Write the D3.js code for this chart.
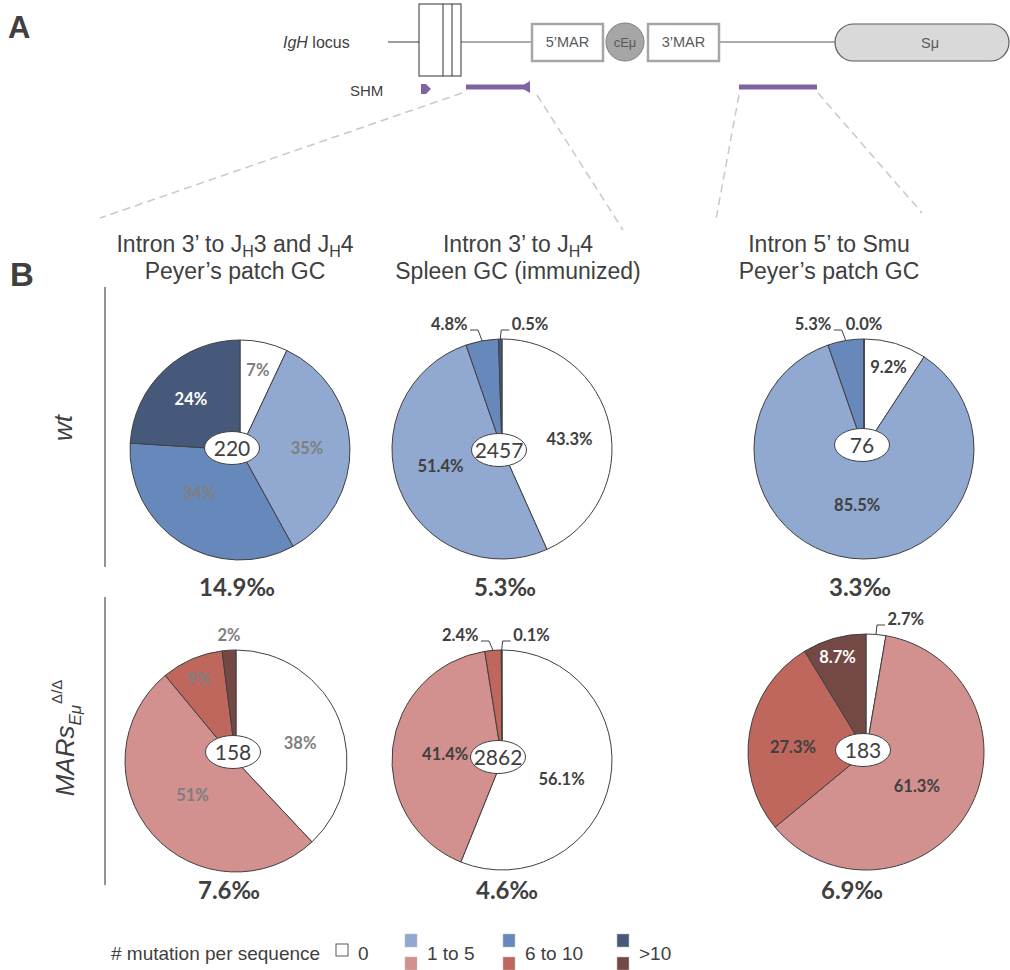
<!DOCTYPE html>
<html><head><meta charset="utf-8">
<script src="https://cdn.jsdelivr.net/npm/d3@7"></script>
<style>body{margin:0;background:#fff}</style>
</head><body><svg id="c" width="1010" height="970"></svg>
<script>
// ---------- DATA ----------
const categories = ["0", "1 to 5", "6 to 10", ">10"];
const columnTitles = [
  [["Intron 3\u2019 to J", ""], ["H", "sub"], ["3 and J", ""], ["H", "sub"], ["4", ""]],
  [["Intron 3\u2019 to J", ""], ["H", "sub"], ["4", ""]],
  [["Intron 5\u2019 to Smu", ""]]
];
const columnSubtitles = ["Peyer\u2019s patch GC", "Spleen GC (immunized)", "Peyer\u2019s patch GC"];
const rowNames = ["wt", "MARs"];
const wtJH34PP = [7, 35, 34, 24];
const wtJH4Spleen = [43.3, 51.4, 4.8, 0.5];
const wtSmuPP = [9.2, 85.5, 5.3, 0.0];
const marJH34PP = [38, 51, 9, 2];
const marJH4Spleen = [56.1, 41.4, 2.4, 0.1];
const marSmuPP = [2.7, 61.3, 27.3, 8.7];
const seqCounts = [220, 2457, 76, 158, 2862, 183];
const mutFreq = ["14.9\u2030", "5.3\u2030", "3.3\u2030", "7.6\u2030", "4.6\u2030", "6.9\u2030"];
const pctDecimals = [0, 1, 1, 0, 1, 1];

// ---------- STYLE / LAYOUT ----------
const blues = ["#ffffff", "#91a9d0", "#6788bb", "#47597a"];
const reds  = ["#ffffff", "#d2908e", "#bf665d", "#744844"];
const pies = [
  {vals: wtJH34PP,    cx: 240, cy: 450, r: 110, ex: -8, ey: -2, colors: blues,
   lab: [[.745,0],[.61,0],[.54,11],[.64,-1]], lc: ["#7f7f7f","#7f7f7f","#7f7f7f","#fff"], fx: -3, fy: 146},
  {vals: wtJH4Spleen, cx: 502, cy: 449, r: 110, ex: -3, ey: 1, colors: blues,
   lab: [[.62,4],[.58,6],"left","right"], lc: ["#404040","#404040","#404040","#404040"], fx: 3, fy: 147},
  {vals: wtSmuPP,     cx: 864, cy: 449, r: 110, ex: -2, ey: -4, colors: blues,
   lab: [[.78,0],[.51,0],"left","up"], lc: ["#404040","#404040","#404040","#404040"], fx: -4, fy: 147},
  {vals: marJH34PP,   cx: 236, cy: 761, r: 111, ex: -3, ey: -9, colors: reds,
   lab: [[.6,6],[.5,3],[.81,-1],"up"], lc: ["#7f7f7f","#7f7f7f","#7f7f7f","#7f7f7f"], fx: -7, fy: 138},
  {vals: marJH4Spleen,cx: 502, cy: 760, r: 110, ex: -4, ey: -3, colors: reds,
   lab: [[.57,7],[.52,0],"left","right"], lc: ["#404040","#404040","#404040","#404040"], fx: 5, fy: 139},
  {vals: marSmuPP,    cx: 866, cy: 752, r: 118, ex: -3, ey: -2, colors: reds,
   lab: ["right",[.52,4],[.62,-6],[.84,-1]], lc: ["#404040","#404040","#404040","#fff"], fx: -14, fy: 147}
];
const colCenters = [235, 518, 829];
const TXT = "#404040";
const sansF = "'Liberation Sans', Arial, sans-serif";
const lato = "Lato, 'Open Sans', sans-serif";

const svg = d3.select("#c");

// ---------- PANEL A ----------
const A = svg.append("g");
A.append("text").attr("x", 8).attr("y", 38).text("A")
  .attr("font-family", sansF).attr("font-weight", "bold").attr("font-size", 31).attr("fill", TXT);
const igh = A.append("text").attr("x", 283).attr("y", 48).attr("font-family", sansF)
  .attr("font-size", 16).attr("fill", TXT);
igh.append("tspan").attr("font-style", "italic").text("IgH");
igh.append("tspan").text(" locus");
[[388, 419], [461, 532], [720, 835]].forEach(([a, b]) =>
  A.append("line").attr("x1", a).attr("x2", b).attr("y1", 42).attr("y2", 42)
    .attr("stroke", "#595959").attr("stroke-width", 1.2));
A.append("rect").attr("x", 419).attr("y", 4).attr("width", 42).attr("height", 72)
  .attr("fill", "#fff").attr("stroke", "#333").attr("stroke-width", 1);
[443, 452].forEach(x => A.append("line").attr("x1", x).attr("x2", x).attr("y1", 4).attr("y2", 76)
  .attr("stroke", "#333").attr("stroke-width", 1));
[[532, "5\u2019MAR"], [648, "3\u2019MAR"]].forEach(([x, t]) => {
  A.append("rect").attr("x", x).attr("y", 24).attr("width", 71).attr("height", 37)
    .attr("fill", "#fff").attr("stroke", "#a6a6a6").attr("stroke-width", 2.5);
  A.append("text").attr("x", x + 35.5).attr("y", 47).attr("text-anchor", "middle").text(t)
    .attr("font-family", sansF).attr("font-size", 14.5).attr("fill", "#595959");
});
A.append("ellipse").attr("cx", 625).attr("cy", 42).attr("rx", 19).attr("ry", 19)
  .attr("fill", "#a6a6a6").attr("stroke", "#7f7f7f").attr("stroke-width", 1);
A.append("text").attr("x", 625).attr("y", 47).attr("text-anchor", "middle").text("cE\u03bc")
  .attr("font-family", sansF).attr("font-size", 13).attr("fill", "#595959");
A.append("rect").attr("x", 835).attr("y", 24).attr("width", 174).attr("height", 37)
  .attr("rx", 18.5).attr("fill", "#d9d9d9").attr("stroke", "#595959").attr("stroke-width", 1.2);
A.append("text").attr("x", 930).attr("y", 48).attr("text-anchor", "middle").text("S\u03bc")
  .attr("font-family", sansF).attr("font-size", 14.5).attr("fill", "#595959");
A.append("text").attr("x", 350).attr("y", 96).text("SHM")
  .attr("font-family", sansF).attr("font-size", 15).attr("fill", TXT);
const purple = "#8064a2";
A.append("path").attr("d", "M421,84 L426,84 L431,89 L426,94 L421,94 Z").attr("fill", purple);
A.append("line").attr("x1", 466).attr("x2", 529).attr("y1", 87).attr("y2", 87)
  .attr("stroke", purple).attr("stroke-width", 5);
A.append("path").attr("d", "M520,87 L530,81 L530,93 Z").attr("fill", purple);
A.append("line").attr("x1", 739).attr("x2", 817).attr("y1", 87).attr("y2", 87)
  .attr("stroke", purple).attr("stroke-width", 5);
[[462, 93, 100, 218], [537, 95, 623, 230], [739, 95, 716, 219], [818, 93, 922, 213]].forEach(([x1, y1, x2, y2]) =>
  A.append("line").attr("x1", x1).attr("y1", y1).attr("x2", x2).attr("y2", y2)
    .attr("stroke", "#c8c8c8").attr("stroke-width", 1.5).attr("stroke-dasharray", "8,5"));

// ---------- PANEL B ----------
svg.append("text").attr("x", 10).attr("y", 286).text("B")
  .attr("font-family", sansF).attr("font-weight", "bold").attr("font-size", 33).attr("fill", TXT);

columnTitles.forEach((parts, i) => {
  const t = svg.append("text").attr("x", colCenters[i]).attr("y", 252).attr("text-anchor", "middle")
    .attr("font-family", sansF).attr("font-size", 23).attr("fill", TXT);
  let shift = 0;
  parts.forEach(([s, kind]) => {
    const sp = t.append("tspan").text(s);
    if (kind === "sub") { sp.attr("font-size", 16).attr("dy", 5 - shift); shift = 5; }
    else { sp.attr("dy", -shift); shift = 0; }
  });
  svg.append("text").attr("x", colCenters[i]).attr("y", 279).attr("text-anchor", "middle")
    .attr("font-family", sansF).attr("font-size", 23).attr("fill", TXT).text(columnSubtitles[i]);
});

[[287, 567], [597, 885]].forEach(([a, b]) =>
  svg.append("line").attr("x1", 105).attr("x2", 105).attr("y1", a).attr("y2", b)
    .attr("stroke", "#595959").attr("stroke-width", 1.3));
svg.append("text").attr("transform", "translate(72,428) rotate(-90)").attr("text-anchor", "middle")
  .attr("font-family", sansF).attr("font-size", 26).attr("font-style", "italic").attr("fill", TXT)
  .text(rowNames[0]);
const mt = svg.append("text").attr("transform", "translate(74,738) rotate(-90)").attr("text-anchor", "middle")
  .attr("font-family", sansF).attr("font-size", 26).attr("font-style", "italic").attr("fill", TXT);
mt.append("tspan").text(rowNames[1]);
mt.append("tspan").attr("font-size", 17).attr("dy", 7).text("E\u03bc");
mt.append("tspan").attr("font-size", 15).attr("font-style", "normal").attr("dy", -19).attr("dx", 1).text("\u0394/\u0394");

const pieGen = d3.pie().sort(null).value(d => d);
pies.forEach((p, pi) => {
  const g = svg.append("g").attr("transform", `translate(${p.cx},${p.cy})`);
  const arc = d3.arc().innerRadius(0).outerRadius(p.r);
  const arcs = pieGen(p.vals);
  g.selectAll("path.s").data(arcs).join("path").attr("class", "s")
    .attr("d", arc).attr("fill", (d, i) => p.colors[i])
    .attr("stroke", "#404040").attr("stroke-width", 1).attr("stroke-linejoin", "round");
  const fmt = d3.format("." + pctDecimals[pi] + "f");
  arcs.forEach((d, i) => {
    const txt = fmt(d.data) + "%";
    const L = p.lab[i];
    const mid = (d.startAngle + d.endAngle) / 2;
    const lt = g.append("text").attr("font-family", lato).attr("font-weight", "bold")
      .attr("font-size", 16.5).attr("fill", p.lc[i]).attr("dy", "0.36em").text(txt);
    if (Array.isArray(L)) {
      const a = mid + L[1] * Math.PI / 180, rr = L[0] * p.r;
      lt.attr("x", Math.sin(a) * rr).attr("y", -Math.cos(a) * rr).attr("text-anchor", "middle");
    } else {
      const px = Math.sin(mid) * p.r, py = -Math.cos(mid) * p.r;
      const ly = -p.r - 15, ey = -p.r - 9;
      if (L === "up") {
        lt.attr("x", px).attr("y", ly).attr("text-anchor", "middle");
      } else {
        const dir = L === "left" ? -1 : 1;
        const exx = px + (dir < 0 ? -4 : 1), hx = exx + dir * 8;
        g.append("path").attr("d", `M${px},${py} L${exx},${ey} L${hx},${ey}`)
          .attr("fill", "none").attr("stroke", "#404040").attr("stroke-width", 1);
        lt.attr("x", hx + dir * 2.5).attr("y", ly).attr("text-anchor", dir < 0 ? "end" : "start");
      }
    }
  });
  g.append("ellipse").attr("cx", p.ex).attr("cy", p.ey).attr("rx", 27.5).attr("ry", 16.5)
    .attr("fill", "#fff").attr("stroke", "#404040").attr("stroke-width", 1);
  g.append("text").attr("x", p.ex).attr("y", p.ey).attr("dy", "0.36em").attr("text-anchor", "middle")
    .attr("font-family", lato).attr("font-size", 21).attr("fill", TXT).text(seqCounts[pi]);
  g.append("text").attr("x", p.fx).attr("y", p.fy).attr("text-anchor", "middle")
    .attr("font-family", lato).attr("font-weight", "bold").attr("font-size", 24).attr("fill", TXT)
    .text(mutFreq[pi]);
});

// ---------- LEGEND ----------
const lg = svg.append("g");
const LF = 19;
lg.append("text").attr("x", 111).attr("y", 960).attr("font-family", sansF).attr("font-size", LF)
  .attr("fill", TXT).text("# mutation per sequence");
const legX = [336, 405, 503, 617];
categories.forEach((c, i) => {
  const x = legX[i];
  if (i === 0) {
    lg.append("rect").attr("x", x).attr("y", 944).attr("width", 12).attr("height", 12)
      .attr("fill", "#fff").attr("stroke", "#595959").attr("stroke-width", 1);
  } else {
    lg.append("rect").attr("x", x).attr("y", 934).attr("width", 12).attr("height", 13)
      .attr("fill", blues[i]).attr("stroke", "#bfbfbf").attr("stroke-width", 0.5);
    lg.append("rect").attr("x", x).attr("y", 957).attr("width", 12).attr("height", 13)
      .attr("fill", reds[i]).attr("stroke", "#bfbfbf").attr("stroke-width", 0.5);
  }
  lg.append("text").attr("x", x + 22).attr("y", 960).attr("font-family", sansF).attr("font-size", LF)
    .attr("fill", TXT).text(c);
});
</script></body></html>
